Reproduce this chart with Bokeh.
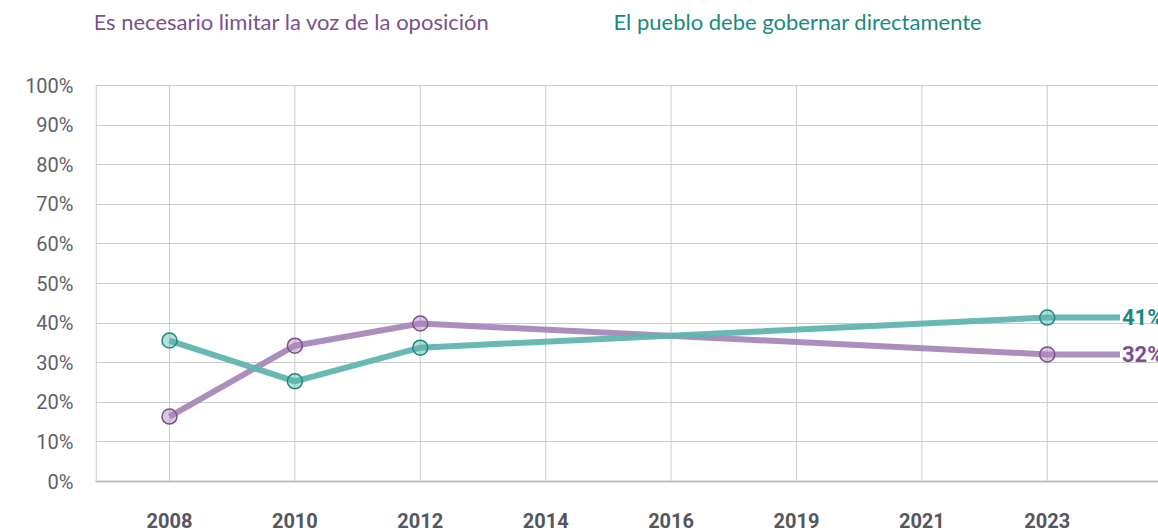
from bokeh.plotting import figure
from bokeh.models import Range1d, FixedTicker, Label
from bokeh.core.properties import value
from bokeh.embed import file_html
from bokeh.resources import INLINE

years = ["2008", "2010", "2012", "2014", "2016", "2019", "2021", "2023"]
series_names = ["Es necesario limitar la voz de la oposición", "El pueblo debe gobernar directamente"]
# values at survey years with data (index into years)
obs_idx = [0, 1, 2, 7]
limitar = [16.4, 34.3, 39.9, 32.1]
pueblo = [35.6, 25.3, 33.8, 41.4]
end_labels = ["32%", "41%"]
y_ticks = [0, 10, 20, 30, 40, 50, 60, 70, 80, 90, 100]

purple_line = "#a888b8"
purple_dark = "#7b4f8e"
teal_line = "#5fb5ae"
teal_dark = "#1a8a80"

W, H = 1158, 530
left, bottom = 95, 49
frame_h = H - bottom
px_per_pct = 3.96
x0, x1 = -0.59, 7.887
px_per_idx = (W - left) / (x1 - x0)
ytop = frame_h / px_per_pct
ext = 7.58

p = figure(width=W, height=H, output_backend="svg", toolbar_location=None,
           x_range=Range1d(x0, x1), y_range=Range1d(0, ytop),
           min_border_left=left, min_border_right=0, min_border_top=0, min_border_bottom=bottom)
p.outline_line_color = None
p.background_fill_color = "white"

p.xaxis.ticker = FixedTicker(ticks=list(range(len(years))))
p.xaxis.major_label_overrides = {i: y for i, y in enumerate(years)}
p.xaxis.major_tick_line_color = None
p.xaxis.minor_tick_line_color = None
p.xaxis.major_label_standoff = 25
p.xaxis.major_label_text_font = "Roboto"
p.xaxis.major_label_text_font_style = "bold"
p.xaxis.major_label_text_font_size = "20px"
p.xaxis.major_label_text_color = "#55565e"
p.xaxis.axis_line_color = "#bdbdbd"
p.xaxis.axis_line_width = 2

p.yaxis.ticker = FixedTicker(ticks=y_ticks)
p.yaxis.major_label_overrides = {t: f"{t}%" for t in y_ticks}
p.yaxis.major_tick_line_color = None
p.yaxis.minor_tick_line_color = None
p.yaxis.major_label_standoff = 16
p.yaxis.major_label_text_font = "Roboto"
p.yaxis.major_label_text_font_size = "20px"
p.yaxis.major_label_text_color = "#5f6068"
p.yaxis.axis_line_color = None

p.xgrid.grid_line_color = None
p.ygrid.grid_line_color = "#cccccc"
p.ygrid.grid_line_width = 1

# vertical grid lines limited to 0-100 %
xt = list(range(len(years)))
p.segment(x0=xt, y0=[y_ticks[0]] * len(xt), x1=xt, y1=[y_ticks[-1]] * len(xt),
          line_color="#cccccc", line_width=1)
# left axis line limited to 0-100 %
xl = x0 + 0.6 / px_per_idx
p.segment(x0=[xl], y0=[y_ticks[0]], x1=[xl], y1=[y_ticks[-1]], line_color="#c8c8c8", line_width=1.2)

for vals, lc, dc, lab in [(limitar, purple_line, purple_dark, end_labels[0]),
                          (pueblo, teal_line, teal_dark, end_labels[1])]:
    xs = obs_idx + [ext]
    ys = vals + [vals[-1]]
    p.line(xs, ys, line_color=lc, line_width=6, line_alpha=0.95)
    p.scatter(obs_idx, vals, size=15, fill_color=lc, fill_alpha=0.45,
              line_color=dc, line_width=1.5)
    p.text(x=[ext + 0.015], y=[vals[-1]], text=[lab], text_color=dc,
           text_font=value("Roboto"), text_font_style="bold", text_font_size="22px",
           text_baseline="middle", text_align="left")

leg_y = (frame_h - 21) / px_per_pct
for txt, dx, col in [(series_names[0], -2, purple_dark), (series_names[1], 518, teal_dark)]:
    p.add_layout(Label(x=x0 + dx / px_per_idx, y=leg_y, text=txt,
                       text_color=col, text_font="Lato", text_font_size="22px",
                       text_baseline="middle", text_align="left"))

open("out.html", "w").write(file_html(p, INLINE))
